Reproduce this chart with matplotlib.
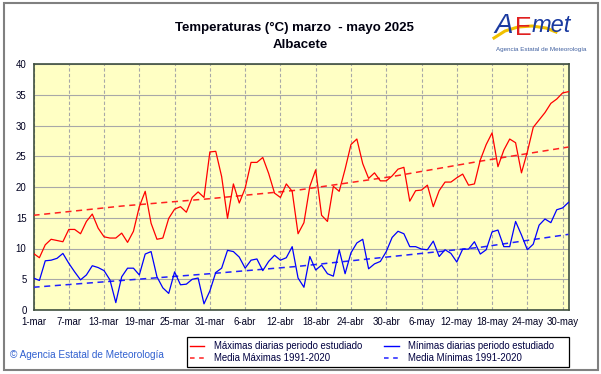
import matplotlib.pyplot as plt
import numpy as np
from matplotlib.lines import Line2D
from matplotlib.patches import Rectangle

# --- datos (1-mar .. 31-may 2025) ---
tmax = [9.2, 8.5, 10.6, 11.5, 11.3, 11.1, 13.1, 13.1, 12.4, 14.4,
        15.6, 13.3, 11.9, 11.7, 11.7, 12.5, 11.0, 12.8, 16.8, 19.3,
        14.1, 11.5, 11.7, 14.9, 16.4, 16.8, 15.9, 18.3, 19.2, 18.3,
        25.7, 25.8, 21.7, 14.9, 20.5, 17.4, 19.8, 24.0, 24.0, 24.8,
        22.2, 19.0, 18.3, 20.5, 19.3, 12.4, 14.2, 20.1, 22.8, 15.4,
        14.4, 20.1, 19.3, 22.9, 26.9, 27.8, 23.8, 21.4, 22.3, 21.0,
        21.0, 21.8, 22.9, 23.2, 17.7, 19.4, 19.5, 20.3, 16.8, 19.4,
        20.8, 20.8, 21.5, 22.1, 20.3, 20.5, 24.4, 26.9, 28.8, 23.3,
        26.0, 27.8, 27.2, 22.3, 25.7, 29.7, 30.9, 32.1, 33.6, 34.3,
        35.3, 35.5]
tmin = [5.2, 4.8, 8.0, 8.1, 8.4, 9.2, 7.6, 6.2, 4.9, 5.7,
        7.2, 6.9, 6.4, 4.9, 1.2, 5.4, 6.8, 6.8, 5.7, 9.1,
        9.5, 5.4, 3.6, 2.7, 6.2, 4.1, 4.2, 5.0, 5.2, 1.0,
        3.1, 6.1, 6.8, 9.7, 9.5, 8.6, 6.8, 8.1, 8.3, 6.4,
        7.9, 8.9, 8.1, 8.5, 10.3, 5.2, 3.7, 8.7, 6.5, 7.3,
        5.9, 5.5, 9.8, 5.9, 9.3, 10.9, 11.5, 6.7, 7.5, 7.9,
        9.5, 11.8, 12.8, 12.4, 10.3, 10.3, 9.9, 9.8, 11.2, 8.7,
        9.8, 9.2, 7.8, 9.9, 9.9, 11.1, 9.1, 9.8, 12.7, 13.0,
        10.3, 10.3, 14.4, 12.2, 9.8, 10.7, 13.8, 14.8, 14.2, 16.3,
        16.6, 17.5]
dias_media = [0, 15, 30, 45, 61, 76, 91]
media_max = [15.4, 16.9, 18.1, 19.5, 21.7, 24.2, 26.5]
media_min = [3.7, 4.8, 5.9, 7.1, 8.7, 10.2, 12.3]

etiquetas = ['1-mar', '7-mar', '13-mar', '19-mar', '25-mar', '31-mar', '6-abr',
             '12-abr', '18-abr', '24-abr', '30-abr', '6-may', '12-may',
             '18-may', '24-may', '30-may']

plt.rcParams['font.family'] = ['Liberation Sans', 'DejaVu Sans']

fig = plt.figure(figsize=(6.01, 3.74), dpi=100)
ax = fig.add_axes([33.5 / 601, 1 - 310 / 374, (568.5 - 33.5) / 601, (310 - 64) / 374])

dias = np.arange(len(tmax))
ax.set_facecolor('#ffffc4')
ax.plot(dias, tmax, color='#ff0000', linewidth=0.9, zorder=4)
ax.plot(dias, tmin, color='#0000ff', linewidth=0.9, zorder=4)
ax.plot(dias_media, media_max, color='#ff2020', linewidth=1.1, dashes=(4, 3), zorder=3)
ax.plot(dias_media, media_min, color='#2020ff', linewidth=1.1, dashes=(4, 3), zorder=3)

ax.set_xlim(0, 91)
ax.set_ylim(0, 40)
ax.set_yticks(range(0, 41, 5))
ax.set_xticks(range(0, 91, 6))
ax.set_xticklabels(etiquetas)
ax.yaxis.grid(True, color='#a8a8a8', linewidth=0.8, zorder=1)
ax.xaxis.grid(True, color='#a8a8a8', linewidth=0.8, linestyle=(0, (3, 2)), zorder=1)
ax.set_axisbelow(True)
ax.tick_params(length=0, labelsize=6.9, labelcolor='#000020', pad=5)
for s in ax.spines.values():
    s.set_color('#405040')
    s.set_linewidth(1.2)

# titulo
fig.text(0.49, 1 - 28 / 374, 'Temperaturas (°C) marzo  - mayo 2025', ha='center', va='center',
         fontsize=9.5, fontweight='bold', color='#000010')
fig.text(0.5, 1 - 45 / 374, 'Albacete', ha='center', va='center',
         fontsize=9.5, fontweight='bold', color='#000010')

# logo aproximado
sx = np.array([494, 505, 518, 532, 546, 556]) / 601
sy = 1 - np.array([38, 31, 27, 26, 28, 32]) / 374
fig.add_artist(Line2D(sx, sy, color='#f0c000', linewidth=2.2))
fig.text(513 / 601, 1 - 26 / 374, 'A', ha='right', va='center', fontsize=20,
         color='#1a3aa0', style='italic')
fig.text(515 / 601, 1 - 28 / 374, 'E', ha='left', va='center', fontsize=18,
         color='#e02020')
fig.text(532 / 601, 1 - 26 / 374, 'met', ha='left', va='center', fontsize=17,
         color='#1a3aa0', style='italic')
fig.text(541 / 601, 1 - 50 / 374, 'Agencia Estatal de Meteorología', ha='center', va='center',
         fontsize=4.5, color='#4060a0')

# copyright
fig.text(10 / 601, 1 - 355 / 374, '© Agencia Estatal de Meteorología', ha='left', va='center',
         fontsize=7.2, color='#3060d0')

# leyenda (recuadro dibujado aparte)
fig.add_artist(Rectangle((187 / 601, 7 / 374), (569 - 187) / 601, 30 / 374,
                         transform=fig.transFigure, fill=False,
                         edgecolor='#000000', linewidth=0.9))
manejadores = [
    Line2D([], [], color='#ff0000', linewidth=1.0),
    Line2D([], [], color='#ff2020', linewidth=1.1, dashes=(3, 3)),
    Line2D([], [], color='#0000ff', linewidth=1.0),
    Line2D([], [], color='#2020ff', linewidth=1.1, dashes=(3, 3)),
]
textos = ['Máximas diarias periodo estudiado', 'Media Máximas 1991-2020',
          'Mínimas diarias periodo estudiado', 'Media Mínimas 1991-2020']
leg = fig.legend(manejadores, textos, ncol=2, loc='center left',
                 bbox_to_anchor=(190 / 601, 22 / 374),
                 fontsize=6.9, frameon=False,
                 handlelength=1.5, handletextpad=1.0, borderpad=0.0,
                 labelspacing=0.2, columnspacing=2.3, borderaxespad=0)
for t in leg.get_texts():
    t.set_color('#000040')

# marco exterior
fig.add_artist(Rectangle((4 / 601, 4 / 374), 594 / 601, 367 / 374, transform=fig.transFigure,
                         fill=False, edgecolor='#808080', linewidth=1.5))

fig.savefig('out.png', dpi=100)
